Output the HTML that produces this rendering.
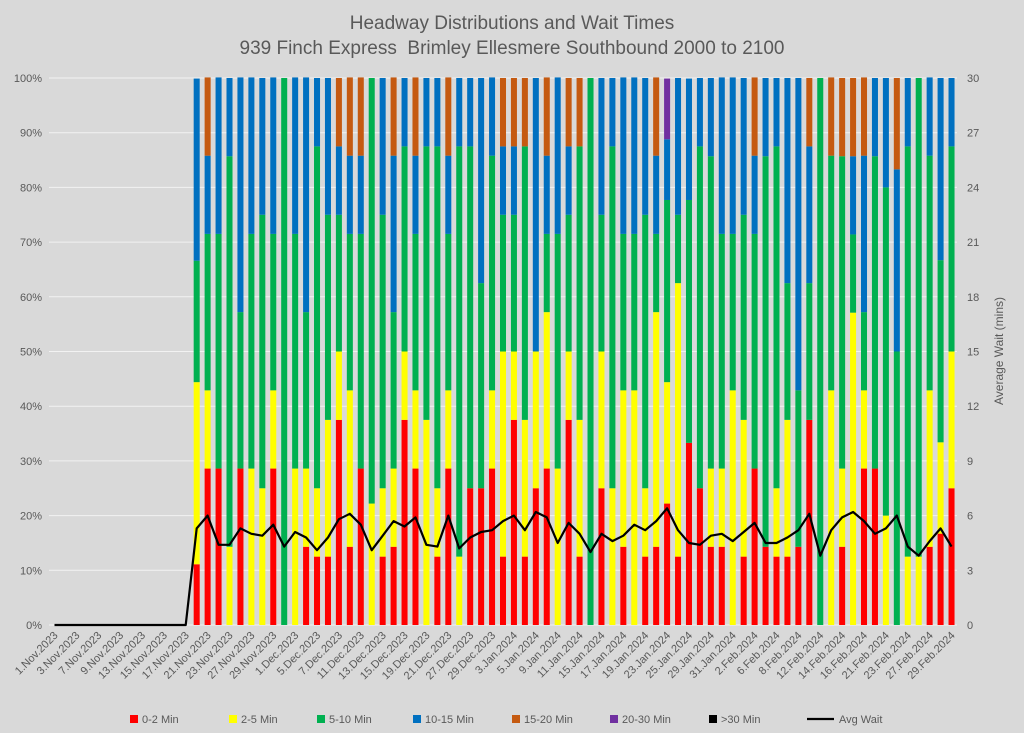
<!DOCTYPE html>
<html><head><meta charset="utf-8">
<style>
html,body{margin:0;padding:0;background:#d9d9d9;}
svg{display:block;font-family:"Liberation Sans",sans-serif;}
</style></head>
<body>
<svg id="chart" width="1024" height="733" viewBox="0 0 1024 733" xmlns="http://www.w3.org/2000/svg">
<rect x="0" y="0" width="1024" height="733" fill="#d9d9d9"/>
<text x="512" y="29" text-anchor="middle" font-size="19" fill="#595959">Headway Distributions and Wait Times</text>
<text x="512" y="54" text-anchor="middle" font-size="19" fill="#595959">939 Finch Express&#160; Brimley Ellesmere Southbound 2000 to 2100</text>
<g id="grid"></g><g id="bars"></g><g id="line"></g><g id="axes"></g>
<text transform="translate(1003,351) rotate(-90)" text-anchor="middle" font-size="12" fill="#595959">Average Wait (mins)</text>
<g id="legend"></g>
</svg>
<script>
const categories = ["1.Nov.2023","2.Nov.2023","3.Nov.2023","6.Nov.2023","7.Nov.2023","8.Nov.2023","9.Nov.2023","10.Nov.2023","13.Nov.2023","14.Nov.2023","15.Nov.2023","16.Nov.2023","17.Nov.2023","20.Nov.2023","21.Nov.2023","22.Nov.2023","23.Nov.2023","24.Nov.2023","27.Nov.2023","28.Nov.2023","29.Nov.2023","30.Nov.2023",
"1.Dec.2023","4.Dec.2023","5.Dec.2023","6.Dec.2023","7.Dec.2023","8.Dec.2023","11.Dec.2023","12.Dec.2023","13.Dec.2023","14.Dec.2023","15.Dec.2023","18.Dec.2023","19.Dec.2023","20.Dec.2023","21.Dec.2023","22.Dec.2023","27.Dec.2023","28.Dec.2023","29.Dec.2023",
"2.Jan.2024","3.Jan.2024","4.Jan.2024","5.Jan.2024","8.Jan.2024","9.Jan.2024","10.Jan.2024","11.Jan.2024","12.Jan.2024","15.Jan.2024","16.Jan.2024","17.Jan.2024","18.Jan.2024","19.Jan.2024","22.Jan.2024","23.Jan.2024","24.Jan.2024","25.Jan.2024","26.Jan.2024","29.Jan.2024","30.Jan.2024","31.Jan.2024",
"1.Feb.2024","2.Feb.2024","5.Feb.2024","6.Feb.2024","7.Feb.2024","8.Feb.2024","9.Feb.2024","12.Feb.2024","13.Feb.2024","14.Feb.2024","15.Feb.2024","16.Feb.2024","20.Feb.2024","21.Feb.2024","22.Feb.2024","23.Feb.2024","26.Feb.2024","27.Feb.2024","28.Feb.2024","29.Feb.2024"];
const z13 = [0,0,0,0,0,0,0,0,0,0,0,0,0];
const min0to2 = z13.concat([11.1,28.6,28.6,0,28.6,0,0,28.6,0,0,14.3,12.5,12.5,37.5,14.3,28.6,0,12.5,14.3,37.5,28.6,0,12.5,28.6,0,25,25,28.6,12.5,37.5,12.5,25,28.6,0,37.5,12.5,0,25,0,14.3,0,12.5,14.3,22.2,12.5,33.3,25,14.3,14.3,0,12.5,28.6,14.3,12.5,12.5,14.3,37.5,0,0,14.3,0,28.6,28.6,0,0,0,0,14.3,16.7,25]);
const min2to5 = z13.concat([33.3,14.3,0,14.3,0,28.6,25,14.3,0,28.6,14.3,12.5,25,12.5,28.6,0,22.2,12.5,14.3,12.5,14.3,37.5,12.5,14.3,12.5,0,0,14.3,37.5,12.5,25,25,28.6,28.6,12.5,25,0,25,25,28.6,42.9,12.5,42.9,22.2,50,0,0,14.3,14.3,42.9,25,0,0,12.5,25,0,0,0,42.9,14.3,57.1,14.3,0,20,0,12.5,12.5,28.6,16.7,25]);
const min5to10 = z13.concat([22.2,28.6,42.9,71.4,28.6,42.9,50,28.6,100,42.9,28.6,62.5,37.5,25,28.6,42.9,77.8,50,28.6,37.5,28.6,50,62.5,28.6,75,62.5,37.5,42.9,25,25,50,0,14.3,42.9,25,50,100,25,62.5,28.6,28.6,50,14.3,33.3,12.5,44.4,62.5,57.1,42.9,28.6,37.5,42.9,71.4,62.5,25,28.6,25,100,42.9,57.1,14.3,14.3,57.1,60,50,75,87.5,42.9,33.3,37.5]);
const min10to15 = z13.concat([33.3,14.3,28.6,14.3,42.9,28.6,25,28.6,0,28.6,42.9,12.5,25,12.5,14.3,14.3,0,25,28.6,12.5,14.3,12.5,12.5,14.3,12.5,12.5,37.5,14.3,12.5,12.5,0,50,14.3,28.6,12.5,0,0,25,12.5,28.6,28.6,25,14.3,11.1,25,22.2,12.5,14.3,28.6,28.6,25,14.3,14.3,12.5,37.5,57.1,25,0,0,0,14.3,28.6,14.3,20,33.3,12.5,0,14.3,33.3,12.5]);
const min15to20 = z13.concat([0,14.3,0,0,0,0,0,0,0,0,0,0,0,12.5,14.3,14.3,0,0,14.3,0,14.3,0,0,14.3,0,0,0,0,12.5,12.5,12.5,0,14.3,0,12.5,12.5,0,0,0,0,0,0,14.3,0,0,0,0,0,0,0,0,14.3,0,0,0,0,12.5,0,14.3,14.3,14.3,14.3,0,0,16.7,0,0,0,0,0]);
const min20to30 = z13.concat([0,0,0,0,0,0,0,0,0,0,0,0,0,0,0,0,0,0,0,0,0,0,0,0,0,0,0,0,0,0,0,0,0,0,0,0,0,0,0,0,0,0,0,11.1,0,0,0,0,0,0,0,0,0,0,0,0,0,0,0,0,0,0,0,0,0,0,0,0,0,0]);
const minOver30 = z13.concat(new Array(70).fill(0));
const avgWait = z13.concat([5.3,6.0,4.4,4.4,5.3,5.0,4.9,5.5,4.3,5.1,4.8,4.1,4.8,5.8,6.1,5.5,4.1,4.9,5.7,5.4,5.9,4.4,4.3,6.0,4.2,4.8,5.1,5.2,5.7,6.0,5.2,6.2,5.9,4.5,5.6,5.0,4.0,5.0,4.6,4.9,5.5,5.2,5.7,6.4,5.2,4.5,4.4,4.9,5.0,4.6,5.1,5.6,4.5,4.5,4.8,5.2,6.1,3.8,5.2,5.9,6.2,5.7,5.0,5.3,6.0,4.3,3.8,4.6,5.3,4.3]);
const pctTicks = ["0%","10%","20%","30%","40%","50%","60%","70%","80%","90%","100%"];
const waitTicks = [0,3,6,9,12,15,18,21,24,27,30];
const seriesNames = ["0-2 Min","2-5 Min","5-10 Min","10-15 Min","15-20 Min","20-30 Min",">30 Min"];

const NS="http://www.w3.org/2000/svg";
const L=49,R=957,T=78,B=625;
const band=(R-L)/categories.length;
const xc=i=>L+band*(i+0.5);
const yP=v=>B-(B-T)*v/100;
const yW=v=>B-(B-T)*v/30;
function mk(tag,attrs,parent){const e=document.createElementNS(NS,tag);for(const k in attrs)e.setAttribute(k,attrs[k]);parent.appendChild(e);return e;}
const grid=document.getElementById('grid'),bars=document.getElementById('bars'),line=document.getElementById('line'),axes=document.getElementById('axes'),legend=document.getElementById('legend');
pctTicks.forEach((t,i)=>{
  const v=i*10;
  const g=mk('line',{x1:L,x2:R,y1:yP(v),y2:yP(v),stroke:'#f2f2f2','stroke-width':1},grid);
  
  
  const tx=mk('text',{x:L-7,y:yP(v)+4,'text-anchor':'end','font-size':11,fill:'#595959'},axes);
  tx.textContent=t;
  
  
});
waitTicks.forEach(v=>{
  const tx=mk('text',{x:R+10,y:yW(v)+4,'text-anchor':'start','font-size':11,fill:'#595959'},axes);
  tx.textContent=v;
  
  
});
const series=[min0to2,min2to5,min5to10,min10to15,min15to20,min20to30,minOver30];
const colors=['#ff0000','#ffff00','#00b050','#0070c0','#c55a11','#7030a0','#000000'];
const bw=band*0.55;
categories.forEach((c,i)=>{
  let cum=0;
  series.forEach((s,k)=>{
    const v=s[i];
    if(v>0){
      const r=mk('rect',{x:xc(i)-bw/2,y:yP(cum+v),width:bw,height:yP(cum)-yP(cum+v),fill:colors[k]},bars);
      
      
    }
    cum+=v;
  });
  if(i%2===0){
    const tx=mk('text',{transform:`translate(${xc(i)+4},${B+11}) rotate(-45)`,'text-anchor':'end','font-size':11,fill:'#595959'},axes);
    tx.textContent=c;
    
    
  }
});
const pts=avgWait.map((v,i)=>xc(i).toFixed(1)+','+yW(v).toFixed(1)).join(' ');
const pl=mk('polyline',{points:pts,fill:'none',stroke:'#000','stroke-width':2.2,'stroke-linejoin':'round'},line);


const lx=[130,229,317,413,512,610,709];
seriesNames.forEach((n,k)=>{
  const sq=mk('rect',{x:lx[k],y:715,width:8,height:8,fill:colors[k]},legend);
  
  
  const tx=mk('text',{x:lx[k]+12,y:723,'font-size':11,fill:'#595959'},legend);
  tx.textContent=n;
  
  
});
const ll=mk('line',{x1:807,x2:834,y1:719,y2:719,stroke:'#000','stroke-width':2.2},legend);


const lt=mk('text',{x:839,y:723,'font-size':11,fill:'#595959'},legend);
lt.textContent='Avg Wait';


</script>
</body></html>
